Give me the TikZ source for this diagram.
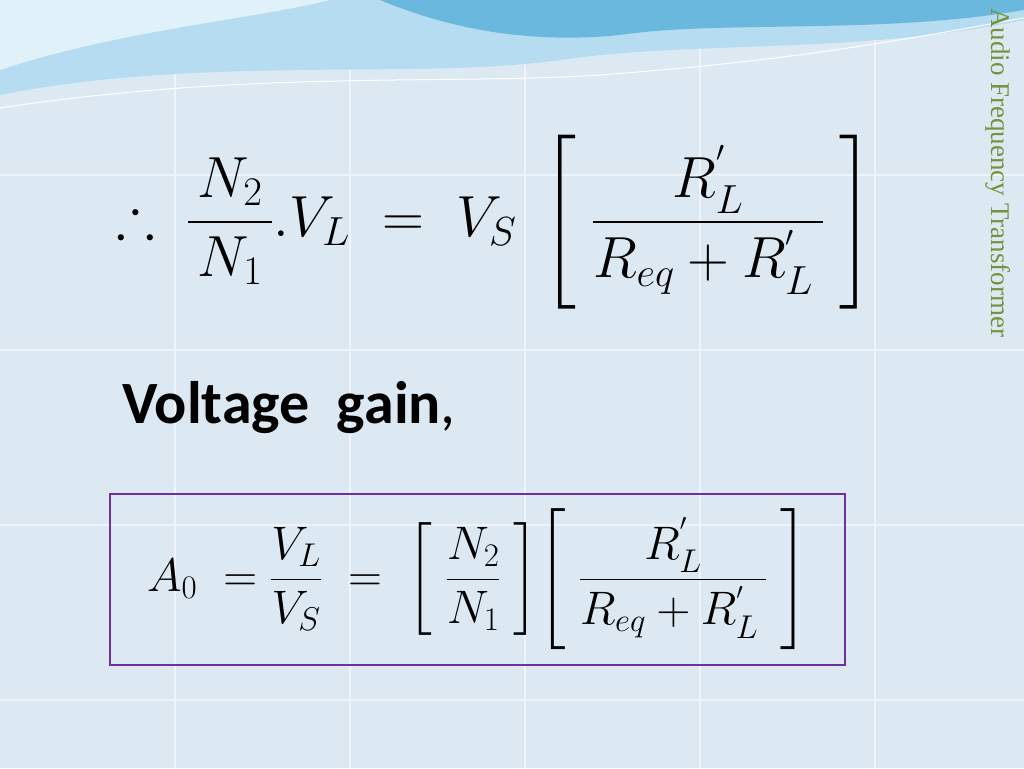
\RequirePackage{fix-cm}
\documentclass[tikz,border=0pt]{standalone}
\usepackage{amsmath,amssymb}
\usepackage{fontspec}
\newfontfamily\slidefont{Carlito}
\newfontfamily\titlefont{Liberation Serif}
\definecolor{paper}{HTML}{DCE9F3}
\definecolor{gridline}{HTML}{EEF4F9}
\definecolor{wavedark}{HTML}{6BB8DF}
\definecolor{wavelight}{HTML}{B5DCF0}
\definecolor{titlegreen}{HTML}{76923C}
\definecolor{boxpurple}{HTML}{7030A0}
\begin{document}
\begin{tikzpicture}
	[x=1pt, y=-1pt,
	eqn/.style = {inner sep=0pt, font=\fontsize{58}{66}\selectfont},
	smalleqn/.style = {inner sep=0pt, font=\fontsize{47}{54}\selectfont}]
\fill[paper] (0,0) rectangle (1024,768);
\useasboundingbox (0,0) rectangle (1024,768);
% faint tiles
\foreach \gx in {175,350,525,700,875}
	\draw[gridline, line width=1.5pt] (\gx,0) -- (\gx,768);
\foreach \gy in {175,350,525,700}
	\draw[gridline, line width=1.5pt] (0,\gy) -- (1024,\gy);
% top wave
\fill[wavelight] (0,0) -- (1024,0) -- (1024,20) .. controls (850,55) and (700,40) .. (560,60) .. controls (420,80) and (200,55) .. (0,95) -- cycle;
\fill[wavedark] (380,0) -- (1024,0) -- (1024,10) .. controls (880,35) and (720,20) .. (620,35) .. controls (520,45) and (440,25) .. (380,0) -- cycle;
\fill[white, opacity=0.6] (0,0) -- (330,0) .. controls (250,20) and (120,30) .. (0,70) -- cycle;
\draw[white, line width=1pt] (0,108) .. controls (250,70) and (450,85) .. (600,75) .. controls (800,60) and (900,40) .. (1024,18);
% side title
\node[rotate=-90, anchor=west, text=titlegreen, inner sep=0pt,
	font=\titlefont\fontsize{27}{30}\selectfont] (title) at (998,8) {Audio Frequency Transformer};
% first relation
\node[eqn] (first) at (495,222)
	{$\therefore\;\dfrac{\,N_2\,}{N_1}.V_L \;=\; V_S\;\left[\;\dfrac{\quad R_L^{'}\quad}{R_{eq}+R_L^{'}\,}\;\right]$};
% heading
\node[anchor=west, inner sep=0pt, font=\slidefont\fontsize{60}{66}\selectfont] (gain) at (122,408)
	{\textbf{Voltage\ \ gain},};
% boxed gain
\node[draw=boxpurple, line width=2pt, minimum width=735pt, minimum height=171pt,
	inner sep=0pt] (frame) at (477.5,579.5) {};
\node[smalleqn] (gaineq) at (frame.center)
	{$A_0\;=\dfrac{V_L}{V_S}\;=\;\left[\;\dfrac{N_2}{N_1}\;\right]\!\left[\;\dfrac{\quad R_L^{'}\quad}{R_{eq}+R_L^{'}\,}\;\right]$};
\end{tikzpicture}
\end{document}
